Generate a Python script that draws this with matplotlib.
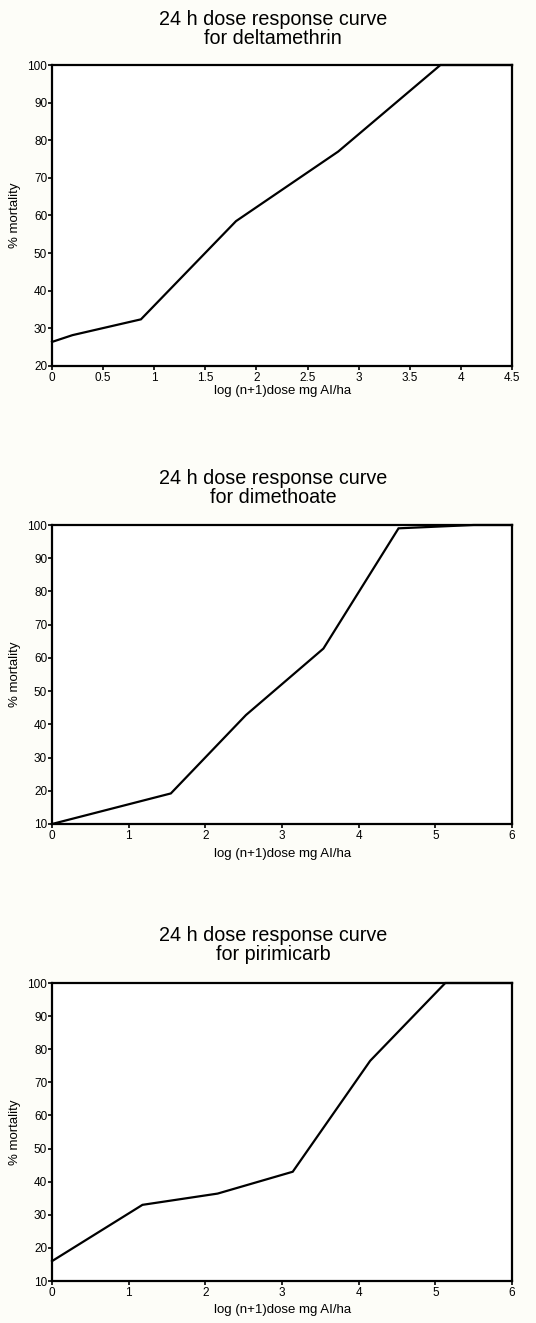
import matplotlib
matplotlib.use("Agg")
import matplotlib.pyplot as plt

plt.rcParams['font.family'] = ['Liberation Sans', 'DejaVu Sans']

# Data
titles = ["24 h dose response curve\nfor deltamethrin",
          "24 h dose response curve\nfor dimethoate",
          "24 h dose response curve\nfor pirimicarb"]
xlabel = "log (n+1)dose mg AI/ha"
ylabel = "% mortality"

delta_x = [0.0, 0.2, 0.87, 1.8, 2.8, 3.8, 4.5]
delta_y = [26.4, 28.2, 32.4, 58.5, 77.0, 100.0, 100.0]

dimeth_x = [0.0, 1.55, 2.53, 3.54, 4.52, 5.5, 6.0]
dimeth_y = [10.0, 19.2, 42.8, 62.8, 99.0, 100.0, 100.0]

pirim_x = [0.0, 1.18, 2.16, 3.14, 4.15, 5.13, 6.0]
pirim_y = [16.0, 33.0, 36.4, 43.0, 76.5, 100.0, 100.0]

delta_xticks = [0, 0.5, 1, 1.5, 2, 2.5, 3, 3.5, 4, 4.5]
delta_xticklabels = ["0", "0.5", "1", "1.5", "2", "2.5", "3", "3.5", "4", "4.5"]
six_xticks = [0, 1, 2, 3, 4, 5, 6]
delta_yticks = [20, 30, 40, 50, 60, 70, 80, 90, 100]
ten_yticks = [10, 20, 30, 40, 50, 60, 70, 80, 90, 100]

W, H = 536, 1323
bg = '#fdfdf8'
fig = plt.figure(figsize=(W / 100, H / 100), dpi=100, facecolor=bg)

panels = [
    dict(x=delta_x, y=delta_y, xlim=(0, 4.5), ylim=(20, 100), xt=delta_xticks,
         xtl=delta_xticklabels, yt=delta_yticks, top=65, bot=366, title_y=29, xl_y=391),
    dict(x=dimeth_x, y=dimeth_y, xlim=(0, 6), ylim=(10, 100), xt=six_xticks,
         xtl=[str(v) for v in six_xticks], yt=ten_yticks, top=525, bot=824, title_y=488, xl_y=854),
    dict(x=pirim_x, y=pirim_y, xlim=(0, 6), ylim=(10, 100), xt=six_xticks,
         xtl=[str(v) for v in six_xticks], yt=ten_yticks, top=983, bot=1281, title_y=945, xl_y=1310),
]

left, right = 52, 512
for title, p in zip(titles, panels):
    ax = fig.add_axes([left / W, 1 - p['bot'] / H, (right - left) / W, (p['bot'] - p['top']) / H])
    ax.set_facecolor('white')
    ax.plot(p['x'], p['y'], color='black', lw=1.6, solid_joinstyle='miter', clip_on=False)
    ax.set_xlim(*p['xlim'])
    ax.set_ylim(*p['ylim'])
    ax.set_xticks(p['xt'])
    ax.set_xticklabels(p['xtl'])
    ax.set_yticks(p['yt'])
    for s in ax.spines.values():
        s.set_linewidth(1.6)
    ax.tick_params(direction='out', length=3, width=1.2, labelsize=8.5, pad=1)
    ax.tick_params(axis='y', pad=0.5)
    fig.text(273 / W, 1 - p['title_y'] / H, title, ha='center', va='center',
             fontsize=14.2, linespacing=1.05)
    fig.text(283 / W, 1 - p['xl_y'] / H, xlabel, ha='center', va='center', fontsize=9.5)
    fig.text(15 / W, 1 - (p['top'] + p['bot']) / 2 / H, ylabel, ha='center', va='center',
             rotation=90, fontsize=9.5)

fig.savefig('out.png', dpi=100, facecolor=bg)
